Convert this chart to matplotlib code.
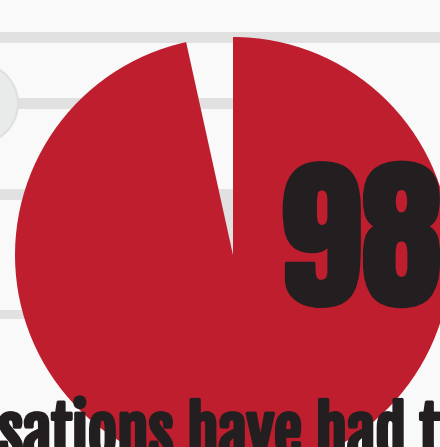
import matplotlib
matplotlib.use("Agg")
import matplotlib.pyplot as plt
import matplotlib.patheffects as pe
from matplotlib.patches import Circle, Rectangle

# data
slice_labels = ["yes", "rest"]
slice_values = [96.55, 3.45]
slice_colors = ["#be1e2d", "none"]
big_number = "98"
caption = "sations have had t"

W, H = 440, 447
BG = "#f9f9f9"
GRID = "#e1e1e1"
INK = "#231f20"

fig = plt.figure(figsize=(W / 100, H / 100), dpi=100)
fig.patch.set_facecolor(BG)
ax = fig.add_axes([0, 0, 1, 1])
ax.set_facecolor(BG)


def sy(y):
    # screen y (from top) -> data y
    return H - y


# background bands
ax.add_patch(Rectangle((0, sy(43)), W, 11, color=GRID, lw=0, zorder=1))
ax.add_patch(Rectangle((18, sy(109)), 230, 11, color=GRID, lw=0, zorder=1))
ax.add_patch(Rectangle((0, sy(200)), 240, 11, color=GRID, lw=0, zorder=1))
ax.add_patch(Rectangle((150, sy(262)), 90, 62, color=GRID, lw=0, zorder=1))
ax.add_patch(Rectangle((0, sy(319)), 240, 9, color=GRID, lw=0, zorder=1))
ax.add_patch(Circle((-22, sy(103.5)), 40, facecolor="#e9eaea",
                    edgecolor="#e0e0e0", lw=1.5, zorder=2))

# pie
wedges, _ = ax.pie(slice_values, colors=slice_colors, startangle=90,
                   counterclock=False, center=(233, sy(255)), radius=218,
                   frame=True, wedgeprops=dict(linewidth=0))
for w in wedges:
    w.set_zorder(3)

ax.text(280, sy(305), big_number, fontsize=118, family=["Anton", "DejaVu Sans"],
        color=INK, ha="left", va="baseline", zorder=5,
        path_effects=[pe.withStroke(linewidth=2.5, foreground=INK)])
ax.text(-2, sy(456), caption, fontsize=45.7, family=["Fjalla One", "DejaVu Sans"],
        color=INK, ha="left", va="baseline", zorder=5,
        path_effects=[pe.withStroke(linewidth=2.5, foreground=INK)])

ax.set_xlim(0, W)
ax.set_ylim(0, H)
ax.set_aspect("auto")
ax.axis("off")

fig.savefig("out.png", dpi=100, facecolor=BG)
